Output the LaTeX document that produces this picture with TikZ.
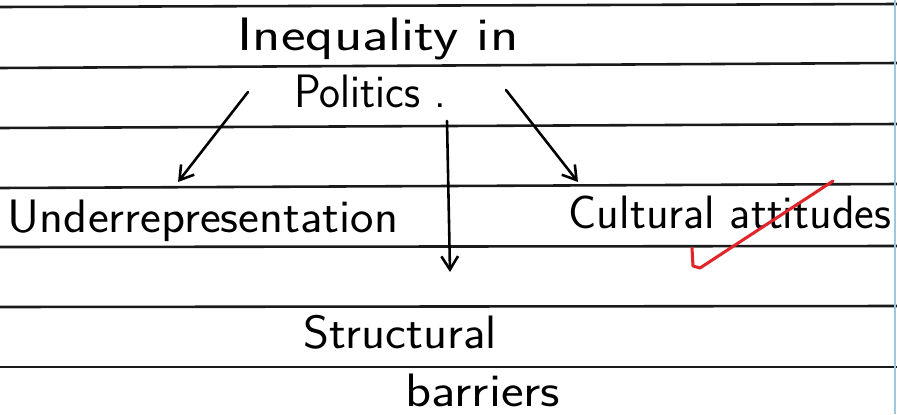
\documentclass[tikz,border=0pt]{standalone}
\usepackage{tikz}
\usetikzlibrary{arrows.meta}
\definecolor{NoteRed}{HTML}{E0262B}
\definecolor{RuleGrey}{HTML}{1A1A1A}
\definecolor{MarginBlue}{HTML}{9CC8E0}

\begin{document}
\begin{tikzpicture}[
    x=0.03cm, y=-0.03cm,
    word/.style={anchor=base, inner sep=0pt, font=\sffamily\fontsize{40}{44}\selectfont},
    rule/.style={RuleGrey, line width=2.2pt},
    pen/.style={line width=2.2pt, line cap=round, -{Straight Barb[length=4mm, width=5mm]}}
]
    % Page
    \useasboundingbox[fill=white] (0,0) rectangle (897,414);

    % Ruled lines
    \foreach \yl/\yr in {7/4, 68/63, 128/124, 188/184, 247/246, 307/306, 367/367}
        \draw[rule] (0,\yl) -- (897,\yr);

    % Margin
    \draw[MarginBlue, line width=1pt] (895,0) -- (895,414);

    % Title
    \node[word, xscale=1.25] (ineq) at (378,50) {Inequality in};
    \node[word, xscale=0.95] (pol) at (370,107) {Politics .};

    % Branches
    \node[word, xscale=1.06] (under) at (203,232) {Underrepresentation};
    \node[word] (cult) at (730,228) {Cultural attitudes};
    \node[word, xscale=1.06] (struct) at (400,348) {Structural};
    \node[word, xscale=1.15] (barr) at (483,406) {barriers};

    % Arrow ends
    \coordinate (lstart) at (248,92);
    \coordinate (lend) at (178,182);
    \coordinate (mstart) at (447,121);
    \coordinate (mend) at (450,272);
    \coordinate (rstart) at (506,90);
    \coordinate (rend) at (578,182);

    % Arrows
    \draw[pen] (lstart) -- (lend);
    \draw[pen] (mstart) -- (mend);
    \draw[pen] (rstart) -- (rend);

    % Tick
    \draw[NoteRed, line width=2.6pt, line cap=round, line join=round]
        (692,248) -- (693,266) -- (700,268) -- (833,181);
\end{tikzpicture}
\end{document}
